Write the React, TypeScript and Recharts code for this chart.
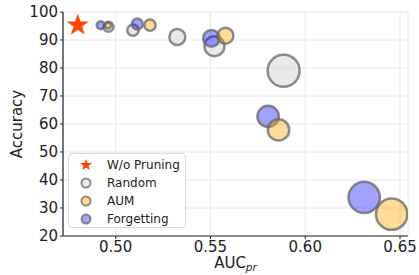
import { ScatterChart, Scatter, XAxis, YAxis, ZAxis, CartesianGrid, Legend } from 'recharts'

// bubble data (z = bubble magnitude)
const starX = [0.48]
const starY = [95.3]

const randomX = [0.4962, 0.5091, 0.5325, 0.5521, 0.5886]
const randomY = [94.7, 93.5, 91.1, 87.8, 79.0]
const randomZ = [25, 32, 64, 100, 256]

const forgettingX = [0.4921, 0.5114, 0.5505, 0.5804, 0.6311]
const forgettingY = [95.3, 95.7, 90.6, 62.7, 33.8]
const forgettingZ = [16, 30, 69, 114, 246]

const aumX = [0.4960, 0.5181, 0.5579, 0.5859, 0.6456]
const aumY = [95.2, 95.3, 91.5, 57.9, 27.8]
const aumZ = [9, 32, 64, 114, 246]

const xTicks = [0.5, 0.55, 0.6, 0.65]
const yTicks = [20, 30, 40, 50, 60, 70, 80, 90, 100]

const legendLabels = ['W/o Pruning', 'Random', 'AUM', 'Forgetting']

const toPoints = (xs: number[], ys: number[], zs?: number[]) =>
  xs.map((x, i) => ({ x, y: ys[i], z: zs ? zs[i] : 1 }))

const FONT = '"DejaVu Sans", sans-serif'
const EDGE = '#666'

function LegendBox() {
  const markers = [
    <polygon key="s" points="0,-6 1.6,-2 6,-1.9 2.6,0.8 3.7,5 0,2.6 -3.7,5 -2.6,0.8 -6,-1.9 -1.6,-2" fill="#ff4500" />,
    <circle key="r" r={4.5} fill="#d3d3d3" fillOpacity={0.5} stroke={EDGE} strokeOpacity={0.75} strokeWidth={2} />,
    <circle key="a" r={4.5} fill="#ffa500" fillOpacity={0.4} stroke={EDGE} strokeOpacity={0.75} strokeWidth={2} />,
    <circle key="f" r={4.5} fill="#0000ff" fillOpacity={0.37} stroke={EDGE} strokeOpacity={0.75} strokeWidth={2} />,
  ]
  return (
    <div
      style={{
        width: 118,
        height: 75,
        border: '1px solid #d8d8d8',
        borderRadius: 4,
        background: 'rgba(255,255,255,0.85)',
        fontFamily: FONT,
        fontSize: 12,
        color: '#222',
        paddingTop: 2,
        boxSizing: 'border-box',
      }}
    >
      {legendLabels.map((label, i) => (
        <div key={label} style={{ display: 'flex', alignItems: 'center', height: 18 }}>
          <svg width={38} height={18} style={{ flex: 'none' }}>
            <g transform="translate(17,9)">{markers[i]}</g>
          </svg>
          <span style={{ lineHeight: '18px' }}>{label}</span>
        </div>
      ))}
    </div>
  )
}

export default function App() {
  return (
    <div style={{ position: 'absolute', left: 0, top: 0, width: 419, height: 275, background: '#fff' }}>
      <ScatterChart width={419} height={275} margin={{ top: 12, right: 11, bottom: 0, left: 0 }}>
        <CartesianGrid stroke="#e8e8ef" strokeWidth={1} />
        <XAxis
          type="number"
          dataKey="x"
          domain={[0.4722, 0.6542]}
          allowDataOverflow
          ticks={xTicks}
          tickFormatter={(v: number) => v.toFixed(2)}
          height={39}
          tickSize={3}
          tickMargin={2}
          axisLine={{ stroke: '#222', strokeWidth: 1.2 }}
          tickLine={{ stroke: '#222' }}
          tick={{ fill: '#222', fontSize: 15, fontFamily: FONT }}
          label={{
            content: (props: any) => {
              const vb = props.viewBox
              return (
                <text x={vb.x + vb.width / 2} y={vb.y + vb.height - 7} textAnchor="middle" fontFamily={FONT} fontSize={15} fill="#222">
                  AUC
                  <tspan fontSize={10.5} fontStyle="italic" dy={3}>pr</tspan>
                </text>
              )
            },
          }}
        />
        <YAxis
          type="number"
          dataKey="y"
          domain={[20, 100]}
          ticks={yTicks}
          width={63}
          tickSize={3}
          tickMargin={2}
          axisLine={{ stroke: '#222', strokeWidth: 1.2 }}
          tickLine={{ stroke: '#222' }}
          tick={{ fill: '#222', fontSize: 15, fontFamily: FONT }}
          label={{
            content: (props: any) => {
              const vb = props.viewBox
              const cy = vb.y + vb.height / 2
              return (
                <text x={17} y={cy} transform={`rotate(-90, 17, ${cy})`} textAnchor="middle" dominantBaseline="central" fontFamily={FONT} fontSize={15} fill="#222">
                  Accuracy
                </text>
              )
            },
          }}
        />
        <ZAxis type="number" dataKey="z" zAxisId="bubble" domain={[0, 256]} range={[0, 256 * Math.PI]} />
        <ZAxis type="number" dataKey="z" zAxisId="star" domain={[0, 1]} range={[156, 156]} />
        <Scatter
          name="Random"
          data={toPoints(randomX, randomY, randomZ)}
          zAxisId="bubble"
          fill="#d3d3d3"
          fillOpacity={0.5}
          stroke={EDGE}
          strokeOpacity={0.75}
          strokeWidth={2.5}
          isAnimationActive={false}
        />
        <Scatter
          name="Forgetting"
          data={toPoints(forgettingX, forgettingY, forgettingZ)}
          zAxisId="bubble"
          fill="#0000ff"
          fillOpacity={0.37}
          stroke={EDGE}
          strokeOpacity={0.75}
          strokeWidth={2.5}
          isAnimationActive={false}
        />
        <Scatter
          name="AUM"
          data={toPoints(aumX, aumY, aumZ)}
          zAxisId="bubble"
          fill="#ffa500"
          fillOpacity={0.4}
          stroke={EDGE}
          strokeOpacity={0.75}
          strokeWidth={2.5}
          isAnimationActive={false}
        />
        <Scatter
          name="W/o Pruning"
          data={toPoints(starX, starY)}
          zAxisId="star"
          shape="star"
          fill="#ff4500"
          isAnimationActive={false}
        />
        <Legend
          layout="horizontal"
          verticalAlign="middle"
          align="center"
          content={() => <LegendBox />}
          wrapperStyle={{ left: 68, top: 153, width: 120, height: 77 }}
        />
      </ScatterChart>
    </div>
  )
}
